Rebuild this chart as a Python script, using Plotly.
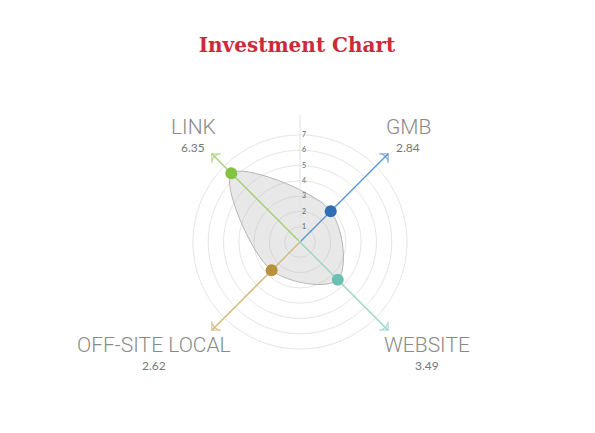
import plotly.graph_objects as go

categories = ['GMB', 'LINK', 'OFF-SITE LOCAL', 'WEBSITE']
values = [2.84, 6.35, 2.62, 3.49]
marker_colors = ['#2f6db5', '#84c341', '#b8913a', '#6cc0b1']
line_colors = ['#5a93cf', '#a3d06e', '#d2b47a', '#93d3c8']
ring_ticks = [1, 2, 3, 4, 5, 6, 7]
axis_len = 8.15

fig = go.Figure()

# gray smoothed area through the four points
fig.add_trace(go.Scatterpolar(
    r=values + [values[0]], theta=categories + [categories[0]],
    mode='lines', fill='toself', line=dict(color='#b5b5b5', width=1, shape='spline', smoothing=1.0),
    fillcolor='rgba(190,190,190,0.35)', hoverinfo='skip', showlegend=False))

# colored axes with arrow heads
for cat, lc in zip(categories, line_colors):
    fig.add_trace(go.Scatterpolar(
        r=[0, axis_len], theta=[cat, cat], mode='lines+markers',
        line=dict(color=lc, width=1.3),
        marker=dict(symbol=['circle', 'arrow-wide-open'], size=[0, 9], angleref='previous',
                    color=lc, line=dict(color=lc, width=1.3)),
        hoverinfo='skip', showlegend=False))

# value markers
for cat, v, mc in zip(categories, values, marker_colors):
    fig.add_trace(go.Scatterpolar(
        r=[v], theta=[cat], mode='markers',
        marker=dict(size=12, color=mc), name=cat, showlegend=False))

# page body has an 8px margin, positions below are shifted for it
fig.update_layout(
    width=595, height=433,
    margin=dict(l=0, r=0, t=0, b=0),
    paper_bgcolor='white',
    title=dict(text='<b>Investment Chart</b>', x=289 / 595, xanchor='center', y=1 - 37 / 433, yanchor='middle',
               font=dict(family='DejaVu Serif', size=20, color='#cc2a3a')),
    polar=dict(
        domain=dict(x=[0.2773, 0.7042], y=[0.1663, 0.7529]),
        bgcolor='white',
        radialaxis=dict(range=[0, axis_len + 0.15], tickvals=ring_ticks, angle=90, tickangle=90,
                        showline=True, linecolor='#e3e3e3', linewidth=1, ticks='',
                        gridcolor='#e6e6e6', gridwidth=1,
                        tickfont=dict(family='Lato', size=7, color='#666')),
        angularaxis=dict(categoryarray=categories, type='category', rotation=45,
                         direction='counterclockwise', showticklabels=False,
                         showgrid=False, showline=False, ticks='')))

# category labels with their values
label_pos = [(400, 119), (185, 119), (146, 337), (419, 337)]
for cat, v, (px_, py_) in zip(categories, values, label_pos):
    fig.add_annotation(x=px_ / 595, y=1 - py_ / 433, xref='paper', yref='paper',
                       text=cat, showarrow=False, xanchor='center', yanchor='middle',
                       font=dict(family='Roboto', weight=300, size=21, color='#8a8a8a'))
    fig.add_annotation(x=px_ / 595, y=1 - (py_ + 20) / 433, xref='paper', yref='paper',
                       text=f'{v:.2f}', showarrow=False, xanchor='center', yanchor='middle',
                       font=dict(family='Lato', size=12, color='#777'))

fig.write_html('out.html')
